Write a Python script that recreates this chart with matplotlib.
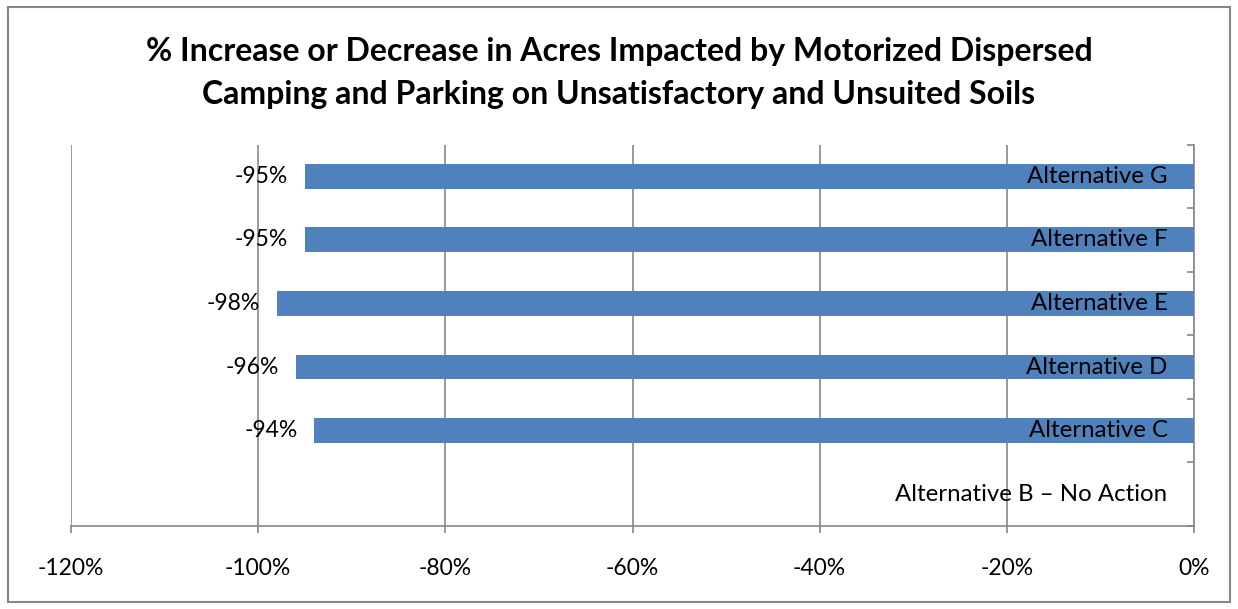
import matplotlib
matplotlib.use("Agg")
import matplotlib.pyplot as plt
from matplotlib.patches import Rectangle

# Data
categories = ["Alternative B \u2013 No Action", "Alternative C", "Alternative D",
              "Alternative E", "Alternative F", "Alternative G"]
pct_change = [0, -94, -96, -98, -95, -95]
value_labels = ["", "-94%", "-96%", "-98%", "-95%", "-95%"]
x_ticks = [-120, -100, -80, -60, -40, -20, 0]
x_tick_labels = ["-120%", "-100%", "-80%", "-60%", "-40%", "-20%", "0%"]
title = ("% Increase or Decrease in Acres Impacted by Motorized Dispersed\n"
         "Camping and Parking on Unsatisfactory and Unsuited Soils")

plt.rcParams["font.family"] = ["Lato", "DejaVu Sans"]

W, H = 1238, 609
fig = plt.figure(figsize=(W / 100, H / 100), dpi=100)
ax = fig.add_axes([71 / W, (H - 526) / H, (1194 - 71) / W, (526 - 144.5) / H])

grey = "#878787"
bar_color = "#4F81BD"
label_size = 16.5
cat_size = 17.3

ypos = list(range(len(categories)))
bars = ax.barh(ypos, pct_change, height=0.39, color=bar_color, zorder=3)

ax.bar_label(bars, labels=value_labels, padding=12, fontsize=label_size,
             color="black", zorder=5)

for y, name in zip(ypos, categories):
    ax.annotate(name, xy=(0, y), xytext=(-19, 0), textcoords="offset points",
                ha="right", va="center", fontsize=cat_size, color="black", zorder=5)

ax.set_xlim(-120, 0)
ax.set_ylim(-0.5, len(categories) - 0.5)
ax.set_xticks(x_ticks)
ax.set_xticklabels(x_tick_labels, fontsize=label_size)
ax.tick_params(axis="x", direction="out", length=5, width=1.2, color=grey, pad=18)

ax.yaxis.tick_right()
ax.set_yticks([i - 0.5 for i in range(len(categories) + 1)])
ax.set_yticklabels([])
ax.tick_params(axis="y", direction="in", length=5, width=1.2, color=grey)

ax.grid(axis="x", color=grey, linewidth=1.2, zorder=0)
ax.set_axisbelow(True)
for side in ("left", "top"):
    ax.spines[side].set_visible(False)
for side in ("bottom", "right"):
    ax.spines[side].set_color(grey)
    ax.spines[side].set_linewidth(1.2)

fig.text(0.5, 1 - 73 / H, title, ha="center", va="center", fontsize=23,
         fontweight="bold", linespacing=1.58)

# Chart border
fig.add_artist(Rectangle((8 / W, 7 / H), (1230 - 8) / W, (602 - 7) / H,
                         transform=fig.transFigure, fill=False,
                         edgecolor=grey, linewidth=1.5))

fig.savefig("out.png", dpi=100)
